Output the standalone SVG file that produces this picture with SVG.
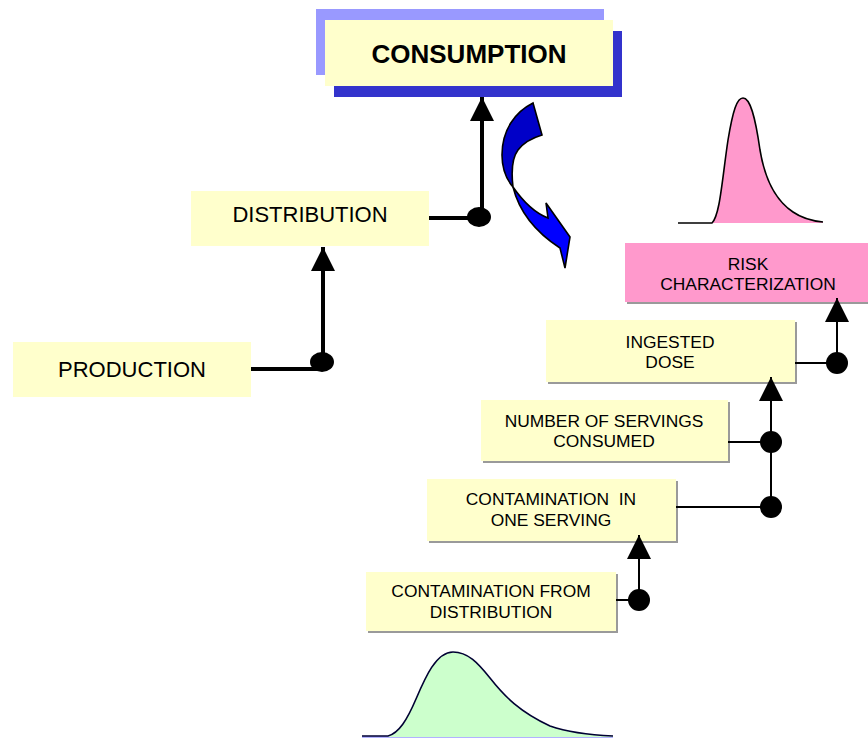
<svg xmlns="http://www.w3.org/2000/svg" width="868" height="740" viewBox="0 0 868 740">
  <defs>
    <marker id="arrowHead" viewBox="0 0 24 24" refX="24" refY="12" markerWidth="24" markerHeight="24" markerUnits="userSpaceOnUse" orient="auto">
      <path d="M0,0 L24,12 L0,24 Z" fill="#000"/>
    </marker>
  </defs>
  <style>
    text { font-family: "Liberation Sans", Arial, sans-serif; fill: #000; text-anchor: middle; }
    .plain { fill: #FFFFCC; }
    .step { fill: #FFFFCC; }
    .shadow { fill: #9A9A9A; }
    .lbl { font-size: 17.4px; }
    .big { font-size: 22px; }
    .thick { stroke: #000; stroke-width: 4; fill: none; }
    .thin { stroke: #000; stroke-width: 2; fill: none; }
    .dot { fill: #000; }
    .curve { stroke: #000; stroke-width: 1.6; }
  </style>

  <rect width="868" height="740" fill="#FFFFFF"/>

  <!-- Consumption title block with layered frames -->
  <g id="consumption">
    <rect x="316" y="9" width="288" height="66" fill="#9999FF"/>
    <rect x="334" y="31" width="288" height="66" fill="#3333CC"/>
    <rect x="325" y="20" width="288" height="66" class="plain"/>
    <text x="469" y="63" font-size="26" font-weight="bold">CONSUMPTION</text>
  </g>

  <g id="distribution">
    <rect x="191" y="191" width="238" height="55" class="plain"/>
    <text x="310" y="222" class="big">DISTRIBUTION</text>
  </g>

  <g id="production">
    <rect x="13" y="342" width="238" height="55" class="plain"/>
    <text x="132" y="377" class="big">PRODUCTION</text>
  </g>

  <!-- Curved twisted ribbon arrow -->
  <g id="flow-arrow">
    <path d="M533,103 C515,112 502,130 502,155 C502,170 507,180 513,187 C511,170 512,158 518,150 C524,142 532,138 542,135 Z" fill="#0000C8" class="curve"/>
    <path d="M513,187 C522,200 535,213 548,218 L546,203 L570,237 L565,268 L560,248 C540,235 520,215 513,187 Z" fill="#0000FF" class="curve"/>
  </g>

  <!-- Output distribution curve -->
  <g id="risk-curve">
    <path d="M712,223 C720,215 722,180 728,140 C733,110 737,98 743,98 C750,98 755,115 760,150 C765,180 775,200 793,212 C803,219 813,221 823,222 L823,223 Z" fill="#FF99CC"/>
    <path d="M678,223 L712,223 C720,215 722,180 728,140 C733,110 737,98 743,98 C750,98 755,115 760,150 C765,180 775,200 793,212 C803,219 813,221 823,222" fill="none" class="curve"/>
  </g>

  <g id="risk-characterization">
    <rect x="627" y="245" width="243" height="59" class="shadow"/>
    <rect x="625" y="243" width="243" height="59" fill="#FF99CC"/>
    <text x="748" y="270" class="lbl">RISK</text>
    <text x="748" y="290" class="lbl">CHARACTERIZATION</text>
  </g>

  <g id="ingested-dose">
    <rect x="548" y="322" width="249" height="62" class="shadow"/>
    <rect x="546" y="320" width="249" height="62" class="step"/>
    <text x="670" y="348" class="lbl">INGESTED</text>
    <text x="670" y="368" class="lbl">DOSE</text>
  </g>

  <g id="servings-consumed">
    <rect x="483" y="402" width="247" height="61" class="shadow"/>
    <rect x="481" y="400" width="247" height="61" class="step"/>
    <text x="604" y="427" class="lbl">NUMBER OF SERVINGS</text>
    <text x="604" y="447" class="lbl">CONSUMED</text>
  </g>

  <g id="contamination-serving">
    <rect x="429" y="481" width="249" height="62" class="shadow"/>
    <rect x="427" y="479" width="249" height="62" class="step"/>
    <text x="551" y="505" class="lbl" xml:space="preserve">CONTAMINATION  IN</text>
    <text x="551" y="526" class="lbl">ONE SERVING</text>
  </g>

  <g id="contamination-distribution">
    <rect x="368" y="574" width="250" height="59" class="shadow"/>
    <rect x="366" y="572" width="250" height="59" class="step"/>
    <text x="491" y="597" class="lbl">CONTAMINATION FROM</text>
    <text x="491" y="618" class="lbl">DISTRIBUTION</text>
  </g>

  <!-- Input distribution curve -->
  <g id="input-curve">
    <line x1="362" y1="737" x2="613" y2="737" stroke="#9999FF" stroke-width="1.5"/>
    <path d="M388,736 C399,733 407,720 416,699 C425,678 436,652 453,652 C468,652 478,663 490,678 C505,697 520,712 550,726 C570,733 590,735 613,736 L613,737 L388,737 Z" fill="#CCFFCC"/>
    <path d="M362,736 L388,736 C399,733 407,720 416,699 C425,678 436,652 453,652 C468,652 478,663 490,678 C505,697 520,712 550,726 C570,733 590,735 613,736" fill="none" stroke="#000033" stroke-width="1.6"/>
  </g>

  <!-- Connectors -->
  <g id="connectors">
    <path d="M251,369 L322,369 M323,362 L323,247" class="thick" marker-end="url(#arrowHead)"/>
    <ellipse cx="322" cy="362" rx="12" ry="10" class="dot"/>

    <path d="M429,218 L478,218 M482,216 L482,97" class="thick" marker-end="url(#arrowHead)"/>
    <ellipse cx="479" cy="217" rx="12" ry="10" class="dot"/>

    <path d="M795,363 L837,363 M837,363 L837,298" class="thin" marker-end="url(#arrowHead)"/>
    <circle cx="837" cy="363" r="11" class="dot"/>

    <path d="M728,442 L771,442 M676,507 L771,507 M771,507 L771,377" class="thin" marker-end="url(#arrowHead)"/>
    <circle cx="771" cy="442" r="11" class="dot"/>
    <circle cx="771" cy="507" r="11" class="dot"/>

    <path d="M616,600 L639,600 M639,600 L639,535" class="thin" marker-end="url(#arrowHead)"/>
    <circle cx="639" cy="600" r="11" class="dot"/>
  </g>
</svg>
